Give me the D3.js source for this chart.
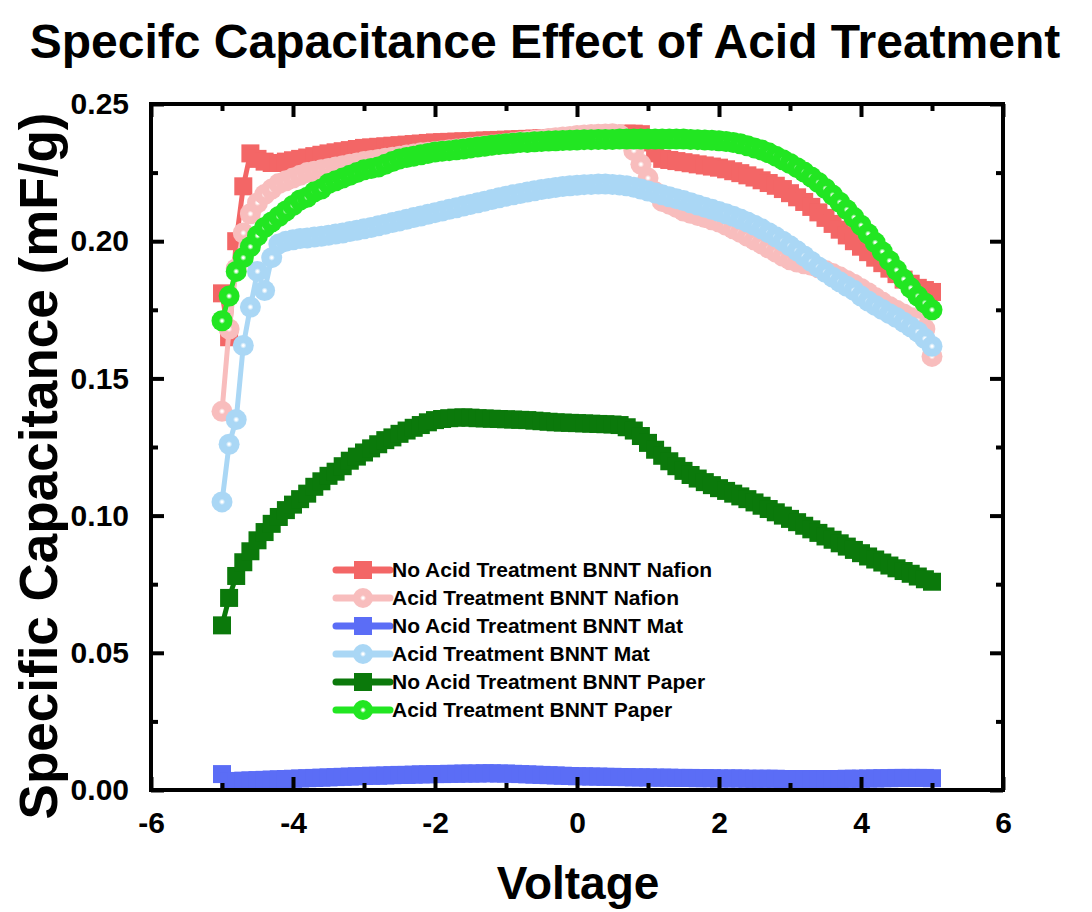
<!DOCTYPE html>
<html><head><meta charset="utf-8">
<script src="https://cdn.jsdelivr.net/npm/d3@7"></script>
<style>
body{margin:0;background:#fff}
svg{display:block}
text{font-family:"Liberation Sans",Arial,Helvetica,sans-serif;font-weight:bold;fill:#000}
</style>
</head><body>
<svg id="chart" width="1092" height="912"></svg>
<script>
// ---------- data ----------
const voltage = [
 -5.0,-4.9,-4.8,-4.7,-4.6,-4.5,-4.4,-4.3,-4.2,-4.1,
 -4.0,-3.9,-3.8,-3.7,-3.6,-3.5,-3.4,-3.3,-3.2,-3.1,
 -3.0,-2.9,-2.8,-2.7,-2.6,-2.5,-2.4,-2.3,-2.2,-2.1,
 -2.0,-1.9,-1.8,-1.7,-1.6,-1.5,-1.4,-1.3,-1.2,-1.1,
 -1.0,-0.9,-0.8,-0.7,-0.6,-0.5,-0.4,-0.3,-0.2,-0.1,
 0.0,0.1,0.2,0.3,0.4,0.5,0.6,0.7,0.8,0.9,
 1.0,1.1,1.2,1.3,1.4,1.5,1.6,1.7,1.8,1.9,
 2.0,2.1,2.2,2.3,2.4,2.5,2.6,2.7,2.8,2.9,
 3.0,3.1,3.2,3.3,3.4,3.5,3.6,3.7,3.8,3.9,
 4.0,4.1,4.2,4.3,4.4,4.5,4.6,4.7,4.8,4.9,
 5.0];

const noAcidNafion = [
 0.181,0.165,0.200,0.220,0.232,0.230,0.229,0.2285,0.2285,0.229,
 0.2295,0.230,0.2305,0.231,0.2315,0.232,0.2324,0.2328,0.2332,0.2336,
 0.234,0.2342,0.2344,0.2346,0.2348,0.235,0.2352,0.2354,0.2356,0.2358,
 0.236,0.2361,0.2362,0.2363,0.2364,0.2365,0.2366,0.2367,0.2368,0.2369,
 0.237,0.2371,0.2372,0.2373,0.2374,0.2375,0.2376,0.2377,0.2378,0.2379,
 0.238,0.2381,0.2382,0.2384,0.2386,0.2388,0.239,0.2392,0.2392,0.239,
 0.236,0.232,0.230,0.2296,0.2292,0.2288,0.2284,0.228,0.2276,0.2272,
 0.2268,0.2262,0.2255,0.2248,0.224,0.2232,0.2222,0.2212,0.2202,0.219,
 0.2175,0.216,0.2143,0.2125,0.2105,0.2085,0.2063,0.2042,0.2021,0.2,
 0.198,0.196,0.194,0.192,0.19,0.188,0.186,0.1845,0.183,0.1822,
 0.1815];

const acidNafion = [
 0.138,0.168,0.190,0.203,0.210,0.214,0.217,0.219,0.221,0.222,
 0.223,0.224,0.225,0.2255,0.226,0.2265,0.227,0.2275,0.228,0.2285,
 0.229,0.2294,0.2298,0.2302,0.2306,0.231,0.2314,0.2318,0.2322,0.2324,
 0.2327,0.233,0.2333,0.2336,0.2339,0.2342,0.2345,0.2348,0.2351,0.2353,
 0.2356,0.2359,0.2362,0.2365,0.2368,0.2371,0.2374,0.2377,0.238,0.2382,
 0.2385,0.2387,0.2389,0.239,0.2391,0.2392,0.2388,0.237,0.233,0.228,
 0.223,0.218,0.2145,0.2135,0.2123,0.211,0.2102,0.2094,0.2086,0.2078,
 0.207,0.2058,0.2045,0.2032,0.2018,0.2004,0.199,0.1975,0.196,0.1945,
 0.1932,0.1924,0.1918,0.1912,0.1903,0.1893,0.1882,0.187,0.1857,0.1843,
 0.1828,0.1812,0.1795,0.1778,0.1762,0.1748,0.1735,0.1722,0.171,0.168,
 0.158];

const noAcidMat = [
 0.0058,0.0032,0.0033,0.0034,0.0035,0.0036,0.0037,0.0038,0.0039,0.004,
 0.0041,0.0042,0.0043,0.0044,0.0045,0.0046,0.0047,0.0048,0.0049,0.005,
 0.0051,0.0052,0.0052,0.0053,0.0054,0.0055,0.0055,0.0056,0.0057,0.0057,
 0.0058,0.0058,0.0059,0.0059,0.006,0.006,0.006,0.0061,0.0061,0.006,
 0.006,0.0059,0.0058,0.0057,0.0056,0.0055,0.0054,0.0053,0.0052,0.0051,
 0.005,0.005,0.0049,0.0049,0.0048,0.0048,0.0047,0.0047,0.0046,0.0046,
 0.0046,0.0045,0.0045,0.0045,0.0044,0.0044,0.0044,0.0043,0.0043,0.0043,
 0.0042,0.0042,0.0042,0.0042,0.0041,0.0041,0.0041,0.0041,0.0041,0.004,
 0.004,0.004,0.004,0.004,0.004,0.004,0.004,0.004,0.0041,0.0041,
 0.0041,0.0042,0.0042,0.0043,0.0043,0.0044,0.0044,0.0044,0.0044,0.0044,
 0.0043];

const acidMat = [
 0.105,0.126,0.135,0.162,0.176,0.189,0.182,0.194,0.199,0.200,
 0.2005,0.201,0.2012,0.2015,0.2018,0.2022,0.2026,0.203,0.2035,0.204,
 0.2045,0.205,0.2056,0.2062,0.2068,0.2074,0.208,0.2086,0.2092,0.2098,
 0.2104,0.211,0.2116,0.2122,0.2128,0.2134,0.214,0.2146,0.2152,0.2158,
 0.2164,0.2169,0.2174,0.2179,0.2184,0.2188,0.2192,0.2196,0.2199,0.2202,
 0.2204,0.2206,0.2207,0.2208,0.2208,0.2207,0.2205,0.2202,0.2197,0.219,
 0.2183,0.2176,0.2169,0.2162,0.2155,0.2148,0.214,0.2132,0.2124,0.2116,
 0.2108,0.21,0.2091,0.2081,0.207,0.2058,0.2045,0.2031,0.2016,0.2,
 0.1983,0.1965,0.1946,0.1926,0.1906,0.1887,0.1869,0.1852,0.1836,0.1821,
 0.18,0.1782,0.1766,0.1751,0.1736,0.1722,0.1705,0.1688,0.167,0.1645,
 0.1617];

const noAcidPaper = [
 0.060,0.070,0.078,0.083,0.087,0.091,0.094,0.097,0.0995,0.102,
 0.104,0.106,0.108,0.1105,0.1125,0.1145,0.116,0.118,0.120,0.1215,
 0.123,0.1245,0.126,0.1275,0.1285,0.1298,0.131,0.132,0.133,0.134,
 0.1348,0.1352,0.1355,0.1357,0.1358,0.1357,0.1355,0.1354,0.1353,0.1352,
 0.1351,0.135,0.1349,0.1348,0.1346,0.1344,0.1342,0.134,0.1339,0.1338,
 0.1337,0.1336,0.1335,0.1334,0.1333,0.1332,0.133,0.1322,0.131,0.129,
 0.1265,0.124,0.1218,0.1198,0.118,0.1163,0.1148,0.1135,0.1122,0.1111,
 0.110,0.109,0.108,0.107,0.106,0.1048,0.1036,0.1024,0.1012,0.1,
 0.0988,0.0976,0.0963,0.095,0.0937,0.0924,0.0912,0.0899,0.0887,0.0875,
 0.0863,0.0851,0.084,0.0829,0.0818,0.0808,0.0798,0.0788,0.0778,0.0768,
 0.0759];

const acidPaper = [
 0.171,0.180,0.189,0.194,0.198,0.202,0.205,0.207,0.209,0.211,
 0.213,0.215,0.216,0.218,0.219,0.221,0.222,0.223,0.224,0.225,
 0.226,0.2265,0.227,0.228,0.229,0.230,0.2305,0.231,0.2315,0.232,
 0.2325,0.2328,0.233,0.2333,0.2336,0.234,0.2343,0.2346,0.235,0.2352,
 0.2355,0.2357,0.236,0.236,0.2362,0.2363,0.2365,0.2366,0.2367,0.2368,
 0.2369,0.237,0.237,0.2371,0.2371,0.2371,0.2372,0.2372,0.2372,0.2372,
 0.2372,0.2372,0.2372,0.2372,0.2372,0.2372,0.2371,0.237,0.2369,0.2368,
 0.2366,0.2363,0.236,0.2355,0.2348,0.234,0.2332,0.2322,0.231,0.2297,
 0.2283,0.2268,0.2252,0.2234,0.2214,0.2192,0.2168,0.2142,0.2115,0.2087,
 0.2058,0.2027,0.1995,0.1962,0.1929,0.1895,0.1862,0.183,0.18,0.1775,
 0.175];

const seriesNames = [
 "No Acid Treatment BNNT Nafion",
 "Acid Treatment BNNT Nafion",
 "No Acid Treatment BNNT Mat",
 "Acid Treatment BNNT Mat",
 "No Acid Treatment BNNT Paper",
 "Acid Treatment BNNT Paper"];
const seriesValues = [noAcidNafion, acidNafion, noAcidMat, acidMat, noAcidPaper, acidPaper];
const seriesSymbols = ["square","circle","square","circle","square","circle"];
const seriesColors = ["#F36666","#F8BDBD","#5B6DF6","#AAD7F5","#0B790B","#22E622"];

const xTickValues = [-6,-4,-2,0,2,4,6];
const xMinorTicks = [-5,-3,-1,1,3,5];
const yTickValues = [0,0.05,0.10,0.15,0.20,0.25];
const yMinorTicks = [0.025,0.075,0.125,0.175,0.225];

const titleText = "Specifc Capacitance Effect of Acid Treatment";
const xTitle = "Voltage";
const yTitle = "Specific Capacitance (mF/g)";

// ---------- layout ----------
const L = 151, R = 1003, T = 104, B = 790;
const svg = d3.select("#chart");
const x = d3.scaleLinear().domain([-6, 6]).range([L, R]);
const y = d3.scaleLinear().domain([0, 0.25]).range([B, T]);

const defs = svg.append("defs");
seriesColors.forEach((c, i) => {
  const g = defs.append("radialGradient").attr("id", "ball" + i)
    .attr("cx", "50%").attr("cy", "50%").attr("r", "50%");
  g.append("stop").attr("offset", "0%").attr("stop-color", "#ffffff");
  g.append("stop").attr("offset", "8%").attr("stop-color", "#ffffff");
  g.append("stop").attr("offset", "30%").attr("stop-color", c);
  g.append("stop").attr("offset", "100%").attr("stop-color", c);
});
defs.append("clipPath").attr("id", "plotclip").append("rect")
  .attr("x", L).attr("y", T - 2).attr("width", R - L).attr("height", B - T + 10);

// ---------- series ----------
const SQ = 18, CR = 10.5;
const plot = svg.append("g").attr("clip-path", "url(#plotclip)");
const line = d3.line().x((d) => x(d[0])).y((d) => y(d[1]));

seriesValues.forEach((vals, i) => {
  const pts = voltage.map((v, k) => [v, vals[k]]);
  const g = plot.append("g");
  g.append("path").datum(pts).attr("d", line)
    .attr("fill", "none").attr("stroke", seriesColors[i]).attr("stroke-width", 5);
  if (seriesSymbols[i] === "square") {
    g.selectAll("rect").data(pts).join("rect")
      .attr("x", (d) => x(d[0]) - SQ / 2).attr("y", (d) => y(d[1]) - SQ / 2)
      .attr("width", SQ).attr("height", SQ).attr("fill", seriesColors[i]);
  } else {
    g.selectAll("circle").data(pts).join("circle")
      .attr("cx", (d) => x(d[0])).attr("cy", (d) => y(d[1]))
      .attr("r", CR).attr("fill", "url(#ball" + i + ")");
  }
});

// ---------- axes ----------
const fontAxis = 30;
function styleAxis(g) {
  g.select(".domain").remove();
  g.selectAll(".tick line").attr("stroke", "#000").attr("stroke-width", 4);
  g.selectAll("text").style("font-size", fontAxis + "px")
    .style("font-family", '"Liberation Sans",Arial,sans-serif').style("font-weight", "bold");
}
const hyphenFmt = (d) => String(d);
svg.append("g").attr("transform", `translate(0,${B})`)
  .call(d3.axisBottom(x).tickValues(xTickValues).tickSize(-13).tickPadding(22).tickFormat(hyphenFmt))
  .call(styleAxis);
svg.append("g").attr("transform", `translate(0,${B})`)
  .call(d3.axisBottom(x).tickValues(xMinorTicks).tickSize(-7).tickFormat(""))
  .call(styleAxis);
svg.append("g").attr("transform", `translate(0,${T})`)
  .call(d3.axisTop(x).tickValues(xTickValues).tickSize(-13).tickFormat(""))
  .call(styleAxis);
svg.append("g").attr("transform", `translate(0,${T})`)
  .call(d3.axisTop(x).tickValues(xMinorTicks).tickSize(-7).tickFormat(""))
  .call(styleAxis);
svg.append("g").attr("transform", `translate(${L},0)`)
  .call(d3.axisLeft(y).tickValues(yTickValues).tickSize(-13).tickPadding(22).tickFormat(d3.format(".2f")))
  .call(styleAxis);
svg.append("g").attr("transform", `translate(${L},0)`)
  .call(d3.axisLeft(y).tickValues(yMinorTicks).tickSize(-7).tickFormat(""))
  .call(styleAxis);
svg.append("g").attr("transform", `translate(${R},0)`)
  .call(d3.axisRight(y).tickValues(yTickValues).tickSize(-13).tickFormat(""))
  .call(styleAxis);
svg.append("g").attr("transform", `translate(${R},0)`)
  .call(d3.axisRight(y).tickValues(yMinorTicks).tickSize(-7).tickFormat(""))
  .call(styleAxis);

svg.append("rect").attr("x", L).attr("y", T).attr("width", R - L).attr("height", B - T)
  .attr("fill", "none").attr("stroke", "#000").attr("stroke-width", 4);

// ---------- titles ----------
svg.append("text").attr("x", 545).attr("y", 58).attr("text-anchor", "middle")
  .style("font-size", "48px").text(titleText);
svg.append("text").attr("x", (L + R) / 2 + 1).attr("y", 899).attr("text-anchor", "middle")
  .style("font-size", "46px").text(xTitle);
svg.append("text").attr("transform", "translate(57,466) rotate(-90)").attr("text-anchor", "middle")
  .style("font-size", "53px").text(yTitle);

// ---------- legend ----------
const legend = svg.append("g");
seriesNames.forEach((name, i) => {
  const cy = 570 + i * 28;
  const g = legend.append("g");
  g.append("line").attr("x1", 336).attr("x2", 390).attr("y1", cy).attr("y2", cy)
    .attr("stroke", seriesColors[i]).attr("stroke-width", 7).attr("stroke-linecap", "round");
  if (seriesSymbols[i] === "square") {
    g.append("rect").attr("x", 363 - 9).attr("y", cy - 9).attr("width", 18).attr("height", 18)
      .attr("fill", seriesColors[i]);
  } else {
    g.append("circle").attr("cx", 363).attr("cy", cy).attr("r", 10).attr("fill", "url(#ball" + i + ")");
  }
  g.append("text").attr("x", 392).attr("y", cy).attr("dy", "0.35em")
    .style("font-size", "21px").text(name);
});
</script>
</body></html>
